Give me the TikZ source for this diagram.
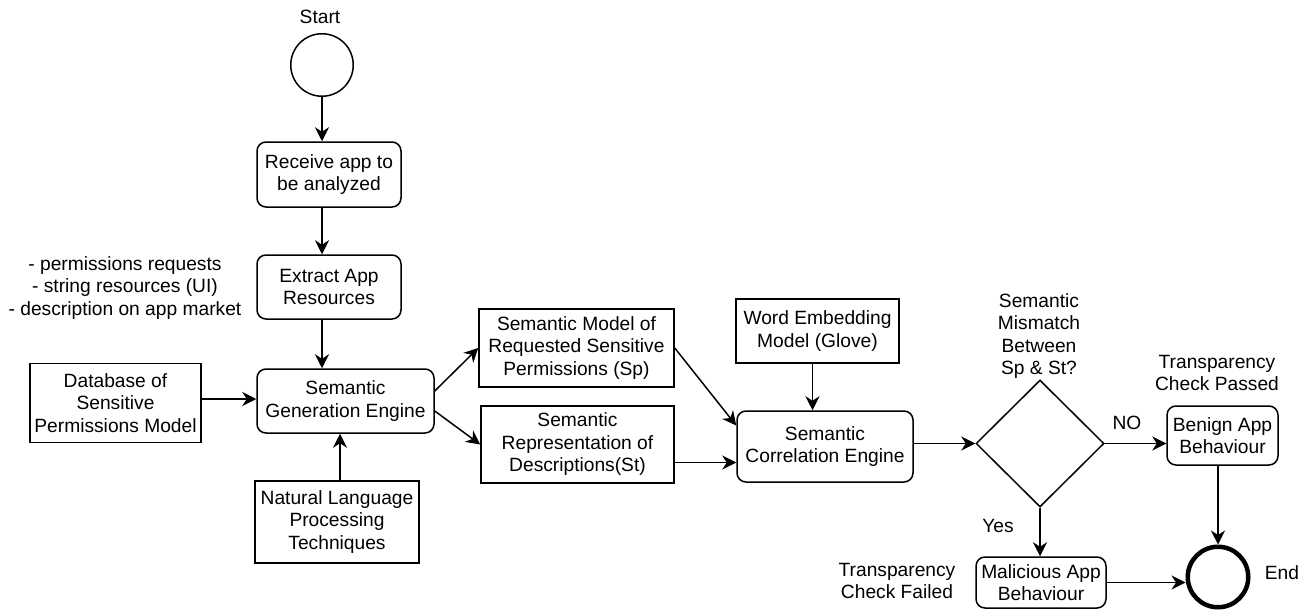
\documentclass[tikz,border=0pt]{standalone}
\usepackage{fontspec}
\setmainfont{Liberation Sans}
\usetikzlibrary{shapes.geometric,arrows.meta,calc}
\begin{document}
\begin{tikzpicture}[x=1pt,y=-1pt,
  every node/.style={font=\fontsize{19.2}{22.5}\selectfont, inner sep=0pt, align=center},
  box/.style={draw, line width=1.5pt, rectangle},
  rbox/.style={box, rounded corners=9pt},
  flow/.style={line width=1.5pt, -{Stealth[length=14pt,width=14pt,inset=4.5pt]}},
]
\useasboundingbox (0,0) rectangle (1309,610);

% start and entry steps
\node[circle, draw, line width=1.5pt, minimum size=62.5pt] (start) at (322,65) {};
\node (starttxt) at (320,17) {Start};
\node[rbox, minimum width=144pt, minimum height=65pt] (recv) at (329,174.5) {Receive app to\\be analyzed};
\node[rbox, minimum width=144pt, minimum height=64pt] (extract) at (329,287) {Extract App\\Resources};
\node (res) at (125,288) {- permissions requests\\- string resources (UI)\\- description on app market};

% semantic generation
\node[rbox, minimum width=177pt, minimum height=64pt] (sge) at (345.5,401) {Semantic\\Generation Engine};
\node[box, minimum width=171pt, minimum height=79pt] (db) at (115.5,403) {Database of\\Sensitive\\Permissions Model};
\node[box, minimum width=164pt, minimum height=82pt] (nlp) at (337,522) {Natural Language\\Processing\\Techniques};

% semantic models
\node[box, minimum width=195pt, minimum height=78pt] (spm) at (576.5,348) {Semantic Model of\\Requested Sensitive\\Permissions (Sp)};
\node[box, minimum width=193pt, minimum height=77pt] (str) at (577.5,444.5) {Semantic\\Representation of\\Descriptions(St)};
\node[box, minimum width=163pt, minimum height=64pt] (emb) at (817.5,331) {Word Embedding\\Model (Glove)};
\node[rbox, minimum width=176pt, minimum height=71pt] (sce) at (825,446.5) {Semantic\\Correlation Engine};

% decision and outcomes
\node[diamond, draw, line width=1.5pt, minimum width=128pt, minimum height=127pt] (dec) at (1040,443.5) {};
\node (q) at (1039,336) {Semantic\\Mismatch\\Between\\Sp \& St?};
\node[rbox, minimum width=111pt, minimum height=59pt] (benign) at (1222.5,435.5) {Benign App\\Behaviour};
\node (pass) at (1217,373) {Transparency\\Check Passed};
\node (no) at (1127,423) {NO};
\node (yes) at (998,526) {Yes};
\node[rbox, minimum width=130pt, minimum height=51pt] (mal) at (1041,582.5) {Malicious App\\Behaviour};
\node (fail) at (897,581) {Transparency\\Check Failed};
\node[circle, draw, line width=4.5pt, minimum size=60.5pt] (end) at (1218,577) {};
\node (endtxt) at (1282,573) {End};

% connectors
\draw[flow] (start.south) -- (start.south |- recv.north);
\draw[flow] (recv.south -| start) -- (extract.north -| start);
\draw[flow] (extract.south -| start) -- (sge.north -| start);
\draw[flow] ([yshift=4pt]db.east) -- ([yshift=4pt]db.east -| sge.west);
\draw[flow] ([xshift=3pt]nlp.north) -- ([xshift=3pt]nlp.north |- sge.south);
\draw[flow] ([yshift=10pt]sge.east) -- (spm.west);
\draw[flow] ([yshift=-10pt]sge.east) -- (str.west);
\draw[flow] (spm.east) -- ([yshift=21pt]sce.west);
\draw[flow] ([yshift=-18pt]str.east) -- ([yshift=-18pt]str.east -| sce.west);
\draw[flow] ([xshift=-5pt]emb.south) -- ([xshift=-5pt]emb.south |- sce.north);
\draw[flow] (sce.east |- dec) -- (dec.west);
\draw[flow] (dec.east) -- (dec.east -| benign.west);
\draw[flow] (dec.south) -- (dec.south |- mal.north);
\draw[flow] (benign.south -| end) -- (end.north);
\draw[flow] (mal.east) -- (mal.east -| end.west);
\end{tikzpicture}
\end{document}
